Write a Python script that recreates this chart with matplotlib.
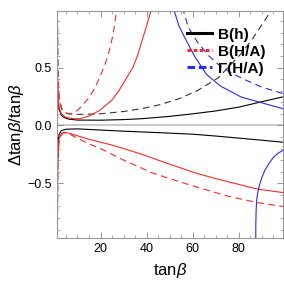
import matplotlib
matplotlib.use("Agg")
import matplotlib.pyplot as plt
from matplotlib.lines import Line2D
from matplotlib.ticker import MultipleLocator

plt.rcParams['font.family'] = ['Liberation Sans', 'DejaVu Sans']
plt.rcParams['mathtext.fontset'] = 'custom'
plt.rcParams['mathtext.it'] = 'Liberation Sans:italic'
plt.rcParams['mathtext.rm'] = 'Liberation Sans'

# B(h), solid black (upper and lower)
bh_up_x = [1.12, 1.3, 1.6, 2, 3, 4, 6, 10, 20, 30, 38, 50, 60, 70, 80, 90, 99]
bh_up_y = [1.05, 0.4, 0.2, 0.14, 0.09, 0.07, 0.055, 0.046, 0.045, 0.05, 0.058, 0.078, 0.1, 0.125, 0.158, 0.205, 0.246]
bh_lo_x = [1.12, 1.3, 1.6, 2, 3, 5, 10, 20, 30, 40, 50, 60, 70, 80, 90, 99]
bh_lo_y = [-1.05, -0.4, -0.15, -0.08, -0.045, -0.033, -0.03, -0.04, -0.05, -0.058, -0.067, -0.076, -0.092, -0.11, -0.128, -0.145]
# B(h), dashed black
bh_dash_x = [1.25, 1.6, 2, 3, 4, 6, 10, 20, 30, 38, 46, 54, 62, 71, 81, 86, 92, 94.5]
bh_dash_y = [1.05, 0.4, 0.25, 0.15, 0.12, 0.1, 0.095, 0.1, 0.12, 0.145, 0.18, 0.23, 0.3, 0.41, 0.62, 0.75, 0.93, 1.02]

# B(H/A), red solid
bha_up_x = [1.2, 1.6, 2, 3, 5, 8, 11, 15, 19.7, 25, 28, 31, 34, 36, 37.5, 40, 42.3]
bha_up_y = [0.6, 0.25, 0.16, 0.1, 0.07, 0.058, 0.058, 0.08, 0.13, 0.22, 0.3, 0.4, 0.5, 0.6, 0.7, 0.86, 1.02]
bha_lo_x = [1.15, 1.5, 2, 3, 4, 6, 10, 15, 20, 25, 30, 38, 45, 50, 61, 70, 80, 88, 99]
bha_lo_y = [-1.05, -0.3, -0.12, -0.07, -0.06, -0.065, -0.09, -0.12, -0.145, -0.17, -0.2, -0.25, -0.3, -0.335, -0.41, -0.46, -0.51, -0.55, -0.58]
# B(H/A), red dashed
bha_dash_up_x = [1.3, 1.5, 2, 3, 4, 6, 8, 10, 12.5, 15, 17.5, 20, 22, 24, 25.5, 27.2]
bha_dash_up_y = [1.05, 0.5, 0.26, 0.15, 0.12, 0.1, 0.105, 0.13, 0.18, 0.24, 0.32, 0.43, 0.53, 0.66, 0.79, 1.02]
bha_dash_lo_x = [1.25, 1.6, 2, 3, 4, 6, 10, 15, 20, 25, 30, 38, 41, 50, 63, 75, 88, 99]
bha_dash_lo_y = [-1.05, -0.3, -0.15, -0.08, -0.065, -0.07, -0.11, -0.16, -0.2, -0.25, -0.3, -0.37, -0.4, -0.46, -0.54, -0.61, -0.667, -0.7]

# Gamma(H/A), blue
gha_up_x = [51.5, 54, 57, 61, 66, 72, 81, 89, 99]
gha_up_y = [1.02, 0.86, 0.74, 0.59, 0.44, 0.34, 0.245, 0.2, 0.145]
gha_lo_x = [87.3, 87.35, 87.5, 87.8, 88.3, 89, 90, 91.2, 93, 95, 97, 99]
gha_lo_y = [-1.02, -0.85, -0.72, -0.63, -0.57, -0.51, -0.45, -0.39, -0.33, -0.275, -0.24, -0.217]
gha_dash_x = [55.5, 58, 62, 67, 72, 78, 82, 90, 99]
gha_dash_y = [1.02, 0.85, 0.72, 0.6, 0.51, 0.44, 0.4, 0.33, 0.276]

legend_labels = ['B(h)', 'B(H/A)', 'Γ(H/A)']

red = '#ff2828'
blue = '#2828ff'
lw = 0.8
dash = (0, (6, 4))

fig = plt.figure(figsize=(2.84, 2.84), dpi=100)
ax = fig.add_axes([0.1996, 0.161, 0.7958, 0.799])

ax.axhline(0, color='#c0c0c0', lw=1.2, zorder=1)

ax.plot(bh_up_x, bh_up_y, color='black', lw=lw)
ax.plot(bh_lo_x, bh_lo_y, color='black', lw=lw)
ax.plot(bh_dash_x, bh_dash_y, color='#333333', lw=lw, linestyle=dash)

ax.plot(bha_up_x, bha_up_y, color=red, lw=lw)
ax.plot(bha_lo_x, bha_lo_y, color=red, lw=lw)
ax.plot(bha_dash_up_x, bha_dash_up_y, color=red, lw=lw, linestyle=dash)
ax.plot(bha_dash_lo_x, bha_dash_lo_y, color=red, lw=lw, linestyle=dash)

ax.plot(gha_up_x, gha_up_y, color=blue, lw=lw)
ax.plot(gha_lo_x, gha_lo_y, color=blue, lw=lw)
ax.plot(gha_dash_x, gha_dash_y, color=blue, lw=lw, linestyle=dash)

ax.set_xlim(1, 99)
ax.set_ylim(-0.975, 0.985)

ax.xaxis.set_major_locator(MultipleLocator(20))
ax.xaxis.set_minor_locator(MultipleLocator(5))
ax.yaxis.set_major_locator(MultipleLocator(0.5))
ax.yaxis.set_minor_locator(MultipleLocator(0.1))
ax.tick_params(which='both', direction='in', top=True, right=True, color='#888888', labelsize=9)
ax.tick_params(which='major', length=4.5, width=0.6)
ax.tick_params(which='minor', length=2.5, width=0.5)
for s in ax.spines.values():
    s.set_color('#999999')
    s.set_linewidth(0.8)

ax.set_xlabel(r'tan$\it{\beta}$', fontsize=12, labelpad=4)
ax.set_ylabel(r'$\Delta$tan$\it{\beta}$/tan$\it{\beta}$', fontsize=12, labelpad=1)

handles = [Line2D([], [], color='black', lw=2.2),
           Line2D([], [], color=red, lw=2.2, linestyle=(0, (1.2, 0.8))),
           Line2D([], [], color=blue, lw=2.2, linestyle=(0, (2.5, 1.2)))]
leg = ax.legend(handles, legend_labels, loc='upper right', frameon=False,
                prop={'weight': 'bold', 'size': 11}, handlelength=1.6,
                handletextpad=0.4, labelspacing=0.2, borderaxespad=0.3,
                bbox_to_anchor=(0.97, 0.975))

fig.savefig('out.png', dpi=100)
